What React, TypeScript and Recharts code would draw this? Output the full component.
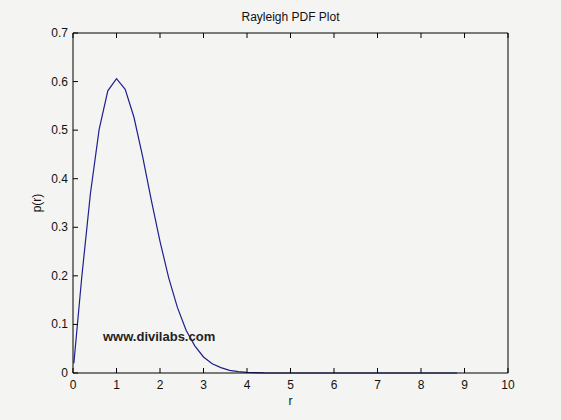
import React from 'react';
import { LineChart, Line, XAxis, YAxis } from 'recharts';

// r values and p(r)
const rValues = [0.02, 0.2, 0.4, 0.6, 0.8, 1.0, 1.2, 1.4, 1.6, 1.8, 2.0, 2.2, 2.4, 2.6, 2.8, 3.0, 3.2, 3.4, 3.6, 3.8, 4.0, 4.4, 5, 6, 7, 8, 8.83];
const pValues = [0.02, 0.196, 0.369, 0.501, 0.581, 0.606, 0.584, 0.527, 0.446, 0.356, 0.271, 0.196, 0.135, 0.088, 0.056, 0.033, 0.019, 0.011, 0.0055, 0.0028, 0.0013, 0.0003, 0, 0, 0, 0, 0];

const xTicks = [0, 1, 2, 3, 4, 5, 6, 7, 8, 9, 10];
const yTicks = [0, 0.1, 0.2, 0.3, 0.4, 0.5, 0.6, 0.7];

const chartData = rValues.map((r, i) => ({ r, p: pValues[i] }));

const FONT = '"Liberation Sans", Arial, Helvetica, sans-serif';
const BG = '#f4f4f2';

const BottomTick = ({ x, y, payload }: any) => (
  <g>
    <line x1={x} y1={y} x2={x} y2={y - 5} stroke="#000" />
    <text x={x} y={y + 16} textAnchor="middle" fontSize={12} fontFamily={FONT} fill="#111">
      {payload.value}
    </text>
  </g>
);

const TopTick = ({ x, y }: any) => <line x1={x} y1={y} x2={x} y2={y + 5} stroke="#000" />;

const LeftTick = ({ x, y, payload }: any) => (
  <g>
    <line x1={x} y1={y} x2={x + 5} y2={y} stroke="#000" />
    <text x={x - 5} y={y + 4} textAnchor="end" fontSize={12} fontFamily={FONT} fill="#111">
      {String(payload.value)}
    </text>
  </g>
);

const RightTick = ({ x, y }: any) => <line x1={x} y1={y} x2={x - 5} y2={y} stroke="#000" />;

export default function App() {
  return (
    <div style={{ position: 'absolute', left: 0, top: 0, width: 561, height: 420, background: BG, fontFamily: FONT }}>
      <LineChart width={561} height={420} data={chartData} margin={{ top: 23, right: 43, bottom: 17, left: 33 }}>
        <XAxis
          xAxisId="bottom"
          dataKey="r"
          type="number"
          domain={[0, 10]}
          ticks={xTicks}
          height={30}
          tickSize={0}
          tickMargin={0}
          tickLine={false}
          stroke="#000"
          tick={<BottomTick />}
          interval={0}
        />
        <XAxis
          xAxisId="top"
          orientation="top"
          dataKey="r"
          type="number"
          domain={[0, 10]}
          ticks={xTicks}
          height={10}
          tickSize={0}
          tickMargin={0}
          tickLine={false}
          stroke="#000"
          tick={<TopTick />}
          interval={0}
        />
        <YAxis
          yAxisId="left"
          type="number"
          domain={[0, 0.7]}
          ticks={yTicks}
          width={40}
          tickSize={0}
          tickMargin={0}
          tickLine={false}
          stroke="#000"
          tick={<LeftTick />}
          interval={0}
        />
        <YAxis
          yAxisId="right"
          orientation="right"
          type="number"
          domain={[0, 0.7]}
          ticks={yTicks}
          width={10}
          tickSize={0}
          tickMargin={0}
          tickLine={false}
          stroke="#000"
          tick={<RightTick />}
          interval={0}
        />
        <Line
          xAxisId="bottom"
          yAxisId="left"
          type="linear"
          dataKey="p"
          stroke="#1f1f8f"
          strokeWidth={1.2}
          dot={false}
          isAnimationActive={false}
        />
      </LineChart>
      <div style={{ position: 'absolute', left: 0, width: 581, top: 10, textAlign: 'center', fontSize: 12, color: '#111' }}>
        Rayleigh PDF Plot
      </div>
      <div style={{ position: 'absolute', left: 0, width: 581, top: 394, textAlign: 'center', fontSize: 12, color: '#111' }}>
        r
      </div>
      <div
        style={{
          position: 'absolute',
          left: 37,
          top: 203,
          transform: 'translate(-50%, -50%) rotate(-90deg)',
          fontSize: 12,
          color: '#111',
          whiteSpace: 'nowrap',
        }}
      >
        p(r)
      </div>
      <div style={{ position: 'absolute', left: 103, top: 329, fontSize: 13, fontWeight: 'bold', color: '#222' }}>
        www.divilabs.com
      </div>
    </div>
  );
}
